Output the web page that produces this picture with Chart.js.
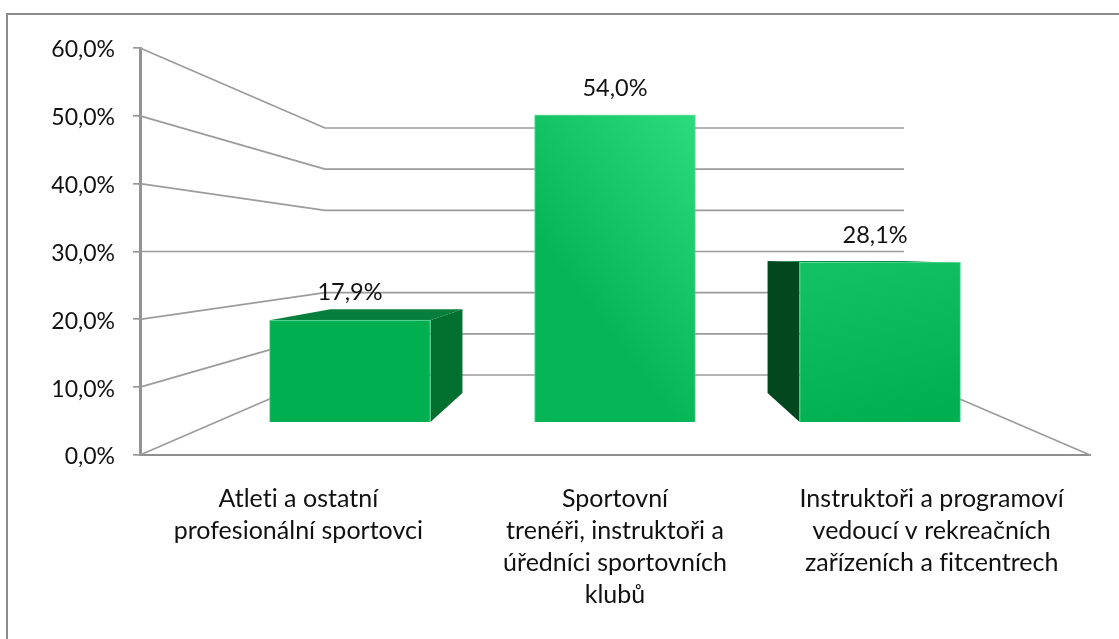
<!DOCTYPE html>
<html><head><meta charset="utf-8">
<script src="https://cdn.jsdelivr.net/npm/chart.js@4/dist/chart.umd.min.js"></script>
<style>
html,body{margin:0;padding:0;background:#fff;overflow:hidden}
#wrap{position:relative;width:1119px;height:639px}
#frame{position:absolute;left:6px;top:13px;right:0;bottom:0;border-left:2px solid #8c8c8c;border-top:2px solid #8c8c8c}
canvas{position:absolute;left:0;top:0}
</style></head><body>
<div id="wrap"><div id="frame"></div><canvas id="c" width="1119" height="639"></canvas></div>
<script>
const categories = [
  ["Atleti a ostatní","profesionální sportovci"],
  ["Sportovní","trenéři, instruktoři a","úředníci sportovních","klubů"],
  ["Instruktoři a programoví","vedoucí v rekreačních","zařízeních a fitcentrech"]
];
const values = [17.9, 54.0, 28.1];
const barSlots = [0, 1, 2];
const yTicks = [0, 10, 20, 30, 40, 50, 60];

const FONT = 'Lato, Carlito, sans-serif';
const GRID = '#9c9c9c';
const fmt = v => v.toFixed(1).replace('.', ',') + '%';

function barFill(c){
  const ch = c.chart, i = c.dataIndex;
  if (!ch.chartArea || !ch.scales.xBar) return '#00b050';
  const x = ch.scales.xBar.getPixelForValue(barSlots[i]);
  const top = ch.scales.yBar.getPixelForValue(values[i]);
  const base = ch.scales.yBar.getPixelForValue(0);
  const hw = 80;
  if (i === 0) return '#00b050';
  const g = i === 1
    ? ch.ctx.createLinearGradient(x - hw, top + 120, x + hw, top)
    : ch.ctx.createLinearGradient(x - 20, top, x + 20, base);
  if (i === 1){ g.addColorStop(0,'#06b656'); g.addColorStop(1,'#2cdc7c'); }
  else { g.addColorStop(0,'#12c262'); g.addColorStop(1,'#00b050'); }
  return g;
}

const scene3d = {
  id:'scene3d',
  beforeDraw(ch){ ch.ctx.letterSpacing = '0.01px'; },
  beforeDatasetsDraw(ch){
    const ctx = ch.ctx, y = ch.scales.y, yb = ch.scales.yBack, a = ch.chartArea;
    const backL = 325, backR = 904;
    ctx.save();
    ctx.strokeStyle = GRID; ctx.lineWidth = 1.7; ctx.lineJoin = 'round';
    yTicks.forEach(v => {
      ctx.beginPath();
      ctx.moveTo(a.left, y.getPixelForValue(v));
      ctx.lineTo(backL, yb.getPixelForValue(v));
      ctx.lineTo(backR, yb.getPixelForValue(v));
      if (v === 0) ctx.lineTo(a.right, y.getPixelForValue(0));
      ctx.stroke();
    });
    const els = ch.getDatasetMeta(0).data;
    const poly = (col, pts) => {
      ctx.fillStyle = col; ctx.beginPath();
      pts.forEach((p,k) => k ? ctx.lineTo(p[0],p[1]) : ctx.moveTo(p[0],p[1]));
      ctx.closePath(); ctx.fill();
    };
    const b0 = els[0], l0 = b0.x - b0.width/2, r0 = b0.x + b0.width/2;
    poly('#057f3b', [[l0,b0.y],[l0+61,b0.y-11],[r0+32,b0.y-11],[r0,b0.y]]);
    poly('#02702f', [[r0,b0.y],[r0+32,b0.y-11],[r0+32,b0.base-29],[r0,b0.base]]);
    const b2 = els[2], l2 = b2.x - b2.width/2, r2 = b2.x + b2.width/2;
    poly('#0a8a45', [[l2-32,b2.y-1],[l2+105,b2.y-1],[r2,b2.y+1],[l2,b2.y]]);
    poly('#03471f', [[l2,b2.y],[l2-32,b2.y-1],[l2-32,b2.base-29],[l2,b2.base]]);
    ctx.restore();
  },
  afterDatasetsDraw(ch){
    const ctx = ch.ctx, els = ch.getDatasetMeta(0).data;
    const dx = [0, 0, -5];
    const dy = [-28, -26, -27];
    ctx.save();
    ctx.font = '23.5px ' + FONT; ctx.fillStyle = '#111';
    ctx.textAlign = 'center'; ctx.textBaseline = 'middle';
    els.forEach((e,i) => ctx.fillText(fmt(values[i]), e.x + dx[i], e.y + dy[i]));
    ctx.restore();
  }
};

new Chart(document.getElementById('c'), {
  type:'bar',
  plugins:[scene3d],
  data:{
    labels:categories,
    datasets:[{
      xAxisID:'xBar', yAxisID:'yBar',
      data:barSlots.map((s,i) => ({x:s, y:values[i]})),
      backgroundColor:barFill,
      borderColor:'rgba(90,220,150,0.8)', borderWidth:1,
      barThickness:161
    }]
  },
  options:{
    responsive:false, animation:false,
    layout:{padding:{left:0,right:29,top:48,bottom:0}},
    plugins:{legend:{display:false},tooltip:{enabled:false}},
    scales:{
      x:{
        type:'category', position:'bottom',
        afterFit(s){ s.height = 184; },
        grid:{display:false},
        border:{display:true,color:'#8f8f8f',width:2},
        ticks:{color:'#111',padding:20,maxRotation:0,autoSkip:false,font:{family:FONT,size:25,lineHeight:1.28}}
      },
      y:{
        type:'linear', position:'left', min:0, max:60,
        afterFit(s){ s.width = 140; },
        afterBuildTicks(s){ s.ticks = yTicks.map(v => ({value:v})); },
        grid:{drawOnChartArea:false,drawTicks:true,tickLength:7,color:'#999',lineWidth:1.7},
        border:{display:true,color:'#939393',width:3},
        ticks:{color:'#111',padding:18,labelOffset:2,callback:v => fmt(v),font:{family:FONT,size:23}}
      },
      xBar:{type:'linear',display:false,offset:false,min:-0.792,max:2.792},
      yBar:{type:'linear',display:false,min:-5.8,max:65.73},
      yBack:{type:'linear',display:false,min:-19.43,max:79.43}
    }
  }
});
</script>
</body></html>
